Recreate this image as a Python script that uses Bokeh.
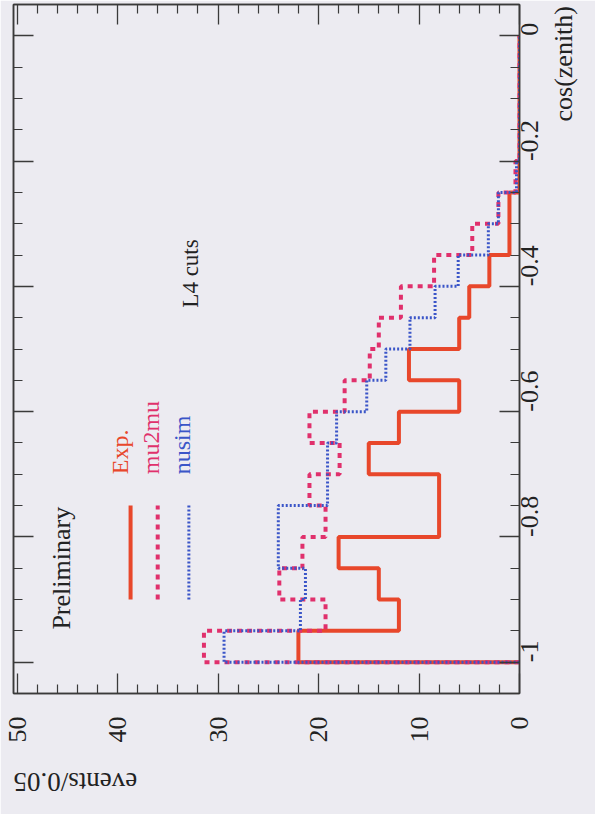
import math
from bokeh.plotting import figure
from bokeh.models import Range1d, LinearAxis, FixedTicker, Label, CustomJSTickFormatter
from bokeh.embed import file_html
from bokeh.resources import INLINE

# ---------------- data ----------------
bin_edges = [-1.0, -0.95, -0.9, -0.85, -0.8, -0.75, -0.7, -0.65, -0.6, -0.55, -0.5,
             -0.45, -0.4, -0.35, -0.3, -0.25, -0.2, -0.15, -0.1, -0.05, 0.0]
exp_counts = [22, 12, 14, 18, 8, 8, 15, 12, 6, 11, 6, 5, 3, 1, 1, 0, 0, 0, 0, 0]
mu2mu_counts = [31.4, 19.3, 23.9, 21.6, 19.3, 20.9, 17.9, 20.9, 17.4, 14.9,
                14.0, 11.8, 8.5, 4.7, 2.1, 0.4, 0, 0, 0, 0]
nusim_counts = [29.4, 21.8, 21.3, 24.0, 24.0, 19.1, 19.1, 18.2, 15.2, 13.3,
                10.9, 8.4, 6.1, 3.1, 2.1, 0.3, 0, 0, 0, 0]
series_names = ["Exp.", "mu2mu", "nusim"]

event_ticks = [0, 10, 20, 30, 40, 50]
event_tick_labels = ["0", "10", "20", "30", "40", "50"]
event_minor_ticks = [2, 4, 6, 8, 12, 14, 16, 18, 22, 24, 26, 28, 32, 34, 36, 38, 42, 44, 46, 48]
cos_ticks = [-1.0, -0.8, -0.6, -0.4, -0.2, 0.0]
cos_tick_labels = ["-1", "-0.8", "-0.6", "-0.4", "-0.2", "0"]
cos_minor_ticks = [-0.95, -0.9, -0.85, -0.75, -0.7, -0.65, -0.55, -0.5, -0.45,
                   -0.35, -0.3, -0.25, -0.15, -0.1, -0.05]

# ---------------- style ----------------
BG = "#ecebf1"
AXC = "#3a3a3a"
FONT = "Liberation Serif"
RED = "#e8472b"
MAG = "#e0306c"
BLUE = "#3a55c8"


def step_path(counts, edges):
    xs, ys = [0.0], [edges[0]]
    for i, c in enumerate(counts):
        xs += [c, c]
        ys += [edges[i], edges[i + 1]]
    xs.append(0.0)
    ys.append(edges[-1])
    return xs, ys


p = figure(width=595, height=814, output_backend="svg", toolbar_location=None,
           x_range=Range1d(50.35, 0), y_range=Range1d(-1.05, 0.05),
           x_axis_location="below", y_axis_location="right",
           min_border_left=13, min_border_right=75, min_border_top=4,
           min_border_bottom=119)
p.background_fill_color = BG
p.border_fill_color = BG
p.outline_line_color = AXC
p.outline_line_width = 1.5
p.grid.visible = False

ev_ticker = FixedTicker(ticks=event_ticks, minor_ticks=event_minor_ticks)
cos_ticker = FixedTicker(ticks=cos_ticks, minor_ticks=cos_minor_ticks)


def style_axis(ax):
    ax.axis_line_color = AXC
    ax.axis_line_width = 1.5
    ax.major_tick_line_color = AXC
    ax.minor_tick_line_color = AXC
    ax.major_tick_line_width = 1.3
    ax.minor_tick_line_width = 1.2
    ax.major_tick_in = 20
    ax.major_tick_out = 0
    ax.minor_tick_in = 9
    ax.minor_tick_out = 0
    ax.major_label_text_font = FONT
    ax.major_label_text_color = "#222222"
    ax.major_label_text_font_size = "26px"
    ax.axis_label_text_font = FONT
    ax.axis_label_text_font_style = "normal"
    ax.axis_label_text_font_size = "26px"
    ax.axis_label_text_color = "#222222"


xb = p.xaxis[0]
xb.ticker = ev_ticker
xb.major_label_overrides = {t: l for t, l in zip(event_ticks, event_tick_labels)}
style_axis(xb)
xb.major_label_orientation = math.pi / 2
xb.major_label_standoff = 23
xb.axis_label = "events/0.05"
xb.axis_label_text_font_size = "27px"
xb.axis_label_standoff = 36
xb.axis_label_orientation = math.pi
xb.axis_label_align = "end"

yr = p.yaxis[0]
yr.ticker = cos_ticker
yr.major_label_overrides = {t: l for t, l in zip(cos_ticks, cos_tick_labels)}
style_axis(yr)
yr.major_label_orientation = math.pi / 2
yr.major_label_standoff = 10
# label anchored at the lower end of the axis; em-space padding moves the
# visible words to the top end, as in the original figure
yr.axis_label = "\u2003" * 22 + "cos(zenith)"
yr.axis_label_standoff = 14
yr.axis_label_orientation = math.pi / 2
yr.axis_label_align = "start"

blank = CustomJSTickFormatter(code="return ''")
xt = LinearAxis(ticker=ev_ticker, formatter=blank)
style_axis(xt)
xt.major_label_standoff = 0
xt.major_label_text_font_size = "1px"
p.add_layout(xt, "above")
yl = LinearAxis(ticker=cos_ticker, formatter=blank)
style_axis(yl)
yl.major_label_standoff = 0
yl.major_label_text_font_size = "1px"
p.add_layout(yl, "left")

# ---------------- histograms ----------------
for counts, col, width, dash in [(exp_counts, RED, 4, "solid"),
                                 (mu2mu_counts, MAG, 4, "5 5"),
                                 (nusim_counts, BLUE, 3, "2 2")]:
    xs, ys = step_path(counts, bin_edges)
    p.line(xs, ys, line_color=col, line_width=width, line_dash=dash)

# ---------------- legend (rotated) ----------------
leg_cols = [RED, MAG, BLUE]
leg_dash = ["solid", "5 5", "2 2"]
leg_w = [4, 4, 3]
leg_x = [38.7, 36.0, 32.9]
leg_text_x = [39.8, 36.7, 33.6]
for name, col, dsh, lw, lx, tx in zip(series_names, leg_cols, leg_dash, leg_w, leg_x, leg_text_x):
    p.line([lx, lx], [-0.9, -0.75], line_color=col, line_width=lw, line_dash=dsh)
    p.add_layout(Label(x=tx, y=-0.7, text=name, angle=math.pi / 2, text_align="left",
                       text_baseline="middle", text_font=FONT, text_font_size="24px",
                       text_color=col))

p.add_layout(Label(x=45.6, y=-0.948, text="Preliminary", angle=math.pi / 2,
                   text_align="left", text_baseline="middle", text_font=FONT,
                   text_font_size="26px", text_color="#222222"))
p.add_layout(Label(x=32.7, y=-0.434, text="L4 cuts", angle=math.pi / 2,
                   text_align="left", text_baseline="middle", text_font=FONT,
                   text_font_size="23px", text_color="#222222"))

open("out.html", "w").write(file_html(p, INLINE))
